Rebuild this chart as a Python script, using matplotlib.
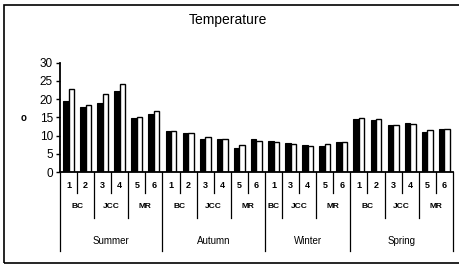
import numpy as np
import matplotlib
matplotlib.use("Agg")
import matplotlib.pyplot as plt
from matplotlib.transforms import blended_transform_factory
from matplotlib.patches import Rectangle

plt.rcParams["font.family"] = ["Liberation Sans", "DejaVu Sans"]

# ── data ─────────────────────────────────────────────────────────────────────
seasons = ["Summer", "Autumn", "Winter", "Spring"]
season_sites = [
    ["1", "2", "3", "4", "5", "6"],
    ["1", "2", "3", "4", "5", "6"],
    ["1", "3", "4", "5", "6"],
    ["1", "2", "3", "4", "5", "6"],
]
site_group = {"1": "BC", "2": "BC", "3": "JCC", "4": "JCC", "5": "MR", "6": "MR"}

# black bars (first series)
series_a = [19.5, 17.8, 18.9, 22.2, 14.8, 15.8,
            11.3, 10.7, 9.2, 9.1, 6.6, 9.0,
            8.5, 7.9, 7.5, 7.2, 8.3,
            14.5, 14.2, 13.0, 13.5, 11.0, 11.9]
# white bars (second series)
series_b = [22.8, 18.4, 21.4, 24.2, 15.2, 16.7,
            11.3, 10.8, 9.6, 9.0, 7.5, 8.5,
            8.3, 7.8, 7.2, 7.8, 8.3,
            14.7, 14.5, 12.9, 13.3, 11.5, 11.9]

y_ticks = [0, 5, 10, 15, 20, 25, 30]

# ── figure ───────────────────────────────────────────────────────────────────
fig = plt.figure(figsize=(4.59, 2.68), dpi=100)
ax = fig.add_axes([0.1307, 0.358, 0.856, 0.408])

x = np.arange(len(series_a))
w = 0.32
ax.bar(x - w / 2, series_a, width=w, color="black", edgecolor="black", lw=0.8)
ax.bar(x + w / 2, series_b, width=w, color="white", edgecolor="black", lw=1.0)

ax.set_xlim(-0.5, len(x) - 0.5)
ax.set_ylim(0, 30)
ax.set_yticks(y_ticks)
ax.tick_params(axis="y", length=3, width=1, labelsize=8.5, pad=2)
ax.set_xticks([])
for s in ["top", "right"]:
    ax.spines[s].set_visible(False)
ax.spines["left"].set_linewidth(1.3)
ax.spines["bottom"].set_linewidth(1.3)

fig.text(0.497, 0.925, "Temperature", ha="center", va="center", fontsize=10)
fig.text(0.052, 0.56, "o", ha="center", va="center", fontsize=7, fontweight="bold")

# ── multi-level category axis ────────────────────────────────────────────────
tr = blended_transform_factory(ax.transData, fig.transFigure)
y_axis = 0.358
y_lvl1, y_sep1 = 0.306, 0.280
y_lvl2, y_sep2 = 0.228, 0.187
y_lvl3, y_sep3 = 0.101, 0.063

i = 0
for season, sites in zip(seasons, season_sites):
    start = i
    ax.plot([start - 0.5] * 2, [y_axis, y_sep3], transform=tr, color="black",
            lw=0.9, clip_on=False)
    groups = []
    for k, site in enumerate(sites):
        ax.text(i, y_lvl1, site, transform=tr, ha="center", va="center",
                fontsize=6.5, fontweight="bold")
        if k > 0:
            same = site_group[site] == site_group[sites[k - 1]]
            ax.plot([i - 0.5] * 2, [y_axis, y_sep1 if same else y_sep2],
                    transform=tr, color="black", lw=0.9, clip_on=False)
        if not groups or groups[-1][0] != site_group[site]:
            groups.append([site_group[site], i, i])
        else:
            groups[-1][2] = i
        i += 1
    for name, g0, g1 in groups:
        ax.text((g0 + g1) / 2, y_lvl2, name, transform=tr, ha="center",
                va="center", fontsize=6, fontweight="bold")
    ax.text((start + i - 1) / 2, y_lvl3, season, transform=tr, ha="center",
            va="center", fontsize=7)
ax.plot([i - 0.5] * 2, [y_axis, y_sep3], transform=tr, color="black",
        lw=0.9, clip_on=False)

# outer chart frame (right edge falls outside the picture)
fig.patches.append(Rectangle((0.0087, 0.0187), 1.05, 0.963, transform=fig.transFigure,
                             fill=False, edgecolor="black", lw=1.2))

fig.savefig("out.png", dpi=100)
